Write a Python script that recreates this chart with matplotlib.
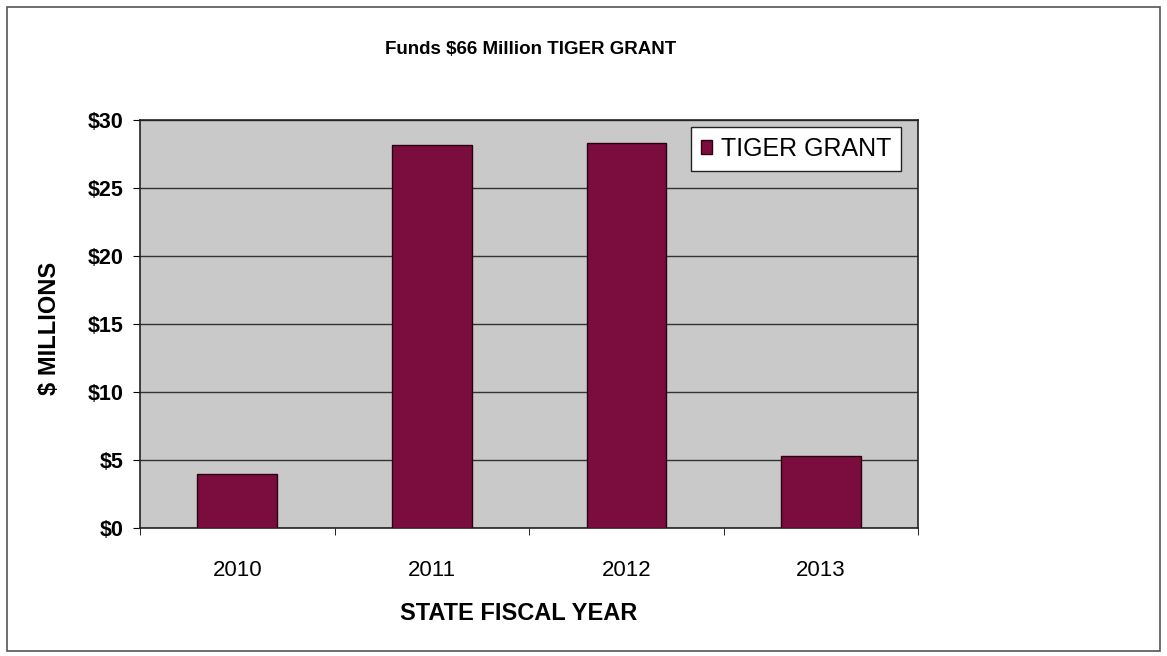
import numpy as np
import matplotlib.pyplot as plt
from matplotlib.patches import Rectangle

plt.rcParams['font.family'] = ['Liberation Sans', 'DejaVu Sans']

years = ['2010', '2011', '2012', '2013']
grant = [4.0, 28.2, 28.3, 5.3]
yticks = [0, 5, 10, 15, 20, 25, 30]

fig = plt.figure(figsize=(11.67, 6.56), dpi=100)
fig.patches.append(Rectangle((0.006, 0.008), 0.988, 0.982, transform=fig.transFigure,
                             fill=False, edgecolor='#555555', linewidth=1.2))

ax = fig.add_axes([0.120, 0.195, 0.667, 0.622])
ax.set_facecolor('#c9c9c9')
x = np.arange(len(years))
ax.bar(x, grant, width=0.41, color='#7a0c3e', edgecolor='#2a0010', linewidth=1,
       label='TIGER GRANT', zorder=3)

ax.set_xlim(-0.5, len(years) - 0.5)
ax.set_ylim(0, 30)
ax.set_yticks(yticks)
ax.set_yticklabels(['$' + str(v) for v in yticks], fontsize=15.5, fontweight='bold')
ax.yaxis.grid(True, color='#333333', linewidth=1, zorder=1)
ax.set_axisbelow(True)

ax.set_xticks(x)
ax.set_xticklabels(years, fontsize=16)
ax.tick_params(axis='x', length=0, pad=23)
ax.set_xticks(np.arange(-0.5, len(years)), minor=True)
ax.tick_params(axis='x', which='minor', length=5, direction='out')
ax.tick_params(axis='y', length=5, direction='out', pad=7)

for s in ax.spines.values():
    s.set_color('#222222')
    s.set_linewidth(1.2)

ax.set_xlabel('STATE FISCAL YEAR', fontsize=17, fontweight='bold')
ax.xaxis.set_label_coords(0.487, -0.182)
ax.set_ylabel('$ MILLIONS', fontsize=17, fontweight='bold')
ax.yaxis.set_label_coords(-0.102, 0.49)
fig.text(0.455, 0.924, 'Funds $66 Million TIGER GRANT', ha='center', va='center',
         fontsize=13.5, fontweight='bold')

leg = ax.legend(loc='upper right', fontsize=18, frameon=True, fancybox=False,
                handlelength=0.45, handleheight=0.5, handletextpad=0.35,
                borderpad=0.4, borderaxespad=0, bbox_to_anchor=(0.978, 0.983))
leg.get_frame().set_edgecolor('#222222')
leg.get_frame().set_facecolor('white')
leg.get_frame().set_alpha(1)

plt.savefig('out.png', dpi=100)
